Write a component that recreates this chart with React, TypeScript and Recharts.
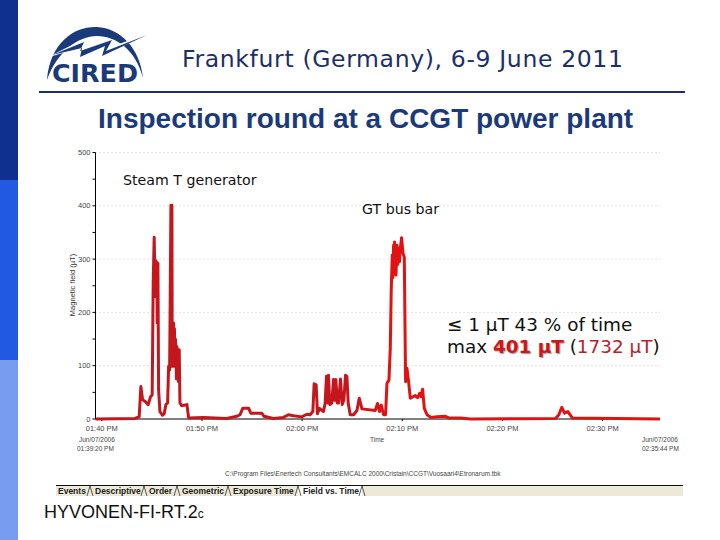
import { LineChart, Line, XAxis, YAxis, CartesianGrid } from "recharts";

// minutes after 13:00
const minutes = [
  39.37, 43.3, 43.73, 43.9, 44.07, 44.33, 44.63, 44.87, 45.03, 45.13, 45.23, 45.33, 45.4, 45.5, 45.53, 45.6,
  45.67, 45.8, 46.07, 46.23, 46.4, 46.57, 46.67, 46.77, 46.83, 46.9, 47.0, 47.03, 47.08, 47.13, 47.17, 47.2, 47.25, 47.3, 47.35, 47.4,
  47.45, 47.5, 47.55, 47.6, 47.66, 47.73, 47.8, 47.97, 48.5, 48.67, 50.13, 52.47, 53.47, 53.8, 54.07, 54.67, 54.87, 55.97, 56.2,
  57.13, 58.13, 58.63, 59.13, 59.97, 60.47, 60.8, 61.07, 61.2, 61.4, 61.53, 61.73, 62.13, 62.3, 62.43, 62.53,
  62.63, 62.77, 62.97, 63.13, 63.25, 63.37, 63.5, 63.63, 63.83, 64.0, 64.17, 64.33, 64.47, 64.6, 64.8, 65.13, 65.47,
  65.7, 65.97, 67.3, 67.53, 67.73, 67.9, 68.13, 68.33, 68.47, 68.67, 68.8, 68.9, 69.0, 69.06, 69.13, 69.18, 69.23, 69.3, 69.37,
  69.47, 69.55, 69.63, 69.72, 69.8, 69.93, 70.07, 70.2, 70.27, 70.33, 70.47, 70.63, 70.8, 71.3, 71.53, 71.73, 71.87, 72.03,
  72.2, 72.47, 72.87, 73.47, 74.3, 74.63, 75.8, 76.8, 85.3, 85.63, 85.93, 86.2, 86.53, 86.97, 95.73,
];
const fieldValues = [
  0, 1, 4, 61, 36, 33, 27, 42, 45, 255, 341, 230, 297, 292, 180, 292,
  55, 14, 7, 10, 27, 30, 99, 92, 227, 401, 401, 99, 178, 110, 180, 99, 170, 120, 150, 130,
  75, 136, 90, 130, 70, 130, 30, 25, 27, 2, 3, 1, 5, 8, 20, 20, 11, 11, 5,
  1, 3, 8, 6, 4, 9, 8, 14, 66, 64, 10, 20, 14, 30, 80, 30,
  82, 27, 30, 74, 35, 74, 30, 30, 75, 27, 36, 82, 80, 30, 8, 8, 16,
  39, 19, 16, 29, 14, 26, 8, 8, 67, 73, 132, 245, 307, 265, 326, 285, 332, 280, 270,
  326, 290, 320, 295, 320, 340, 311, 304, 176, 70, 95, 70, 39, 44, 40, 48, 42, 56,
  20, 8, 3, 4, 5, 2, 2, 0, 1, 8, 22, 11, 14, 2, 0,
];
const xTicks = [40, 50, 60, 70, 80, 90];
const xTickLabels = ["01:40 PM", "01:50 PM", "02:00 PM", "02:10 PM", "02:20 PM", "02:30 PM"];
const yTicks = [0, 50, 100, 150, 200, 250, 300, 350, 400, 450, 500];
const yGridValues = [100, 200, 300, 400, 500];
const tabs = [
  { name: "Events", x: 58 },
  { name: "Descriptive", x: 95 },
  { name: "Order", x: 149 },
  { name: "Geometric", x: 182 },
  { name: "Exposure Time", x: 233 },
  { name: "Field vs. Time", x: 303 },
];
const tabEdges = [90, 144, 177, 228, 298, 362];

const chartData = minutes.map((m, i) => ({ minute: m, field: fieldValues[i] }));

const tinyText = { fill: "#444", fontSize: 7.5, fontFamily: "Liberation Sans" };

function Txt(props: { x: number; y: number; size: number; font?: string; color?: string; bold?: boolean; bg?: string; spacing?: number; children: any }) {
  return (
    <div
      style={{
        position: "absolute",
        left: props.x,
        top: props.y,
        fontSize: props.size,
        lineHeight: 1,
        whiteSpace: "nowrap",
        fontFamily: props.font || "DejaVu Sans",
        color: props.color || "#111",
        fontWeight: props.bold ? "bold" : "normal",
        background: props.bg,
        letterSpacing: props.spacing,
      }}
    >
      {props.children}
    </div>
  );
}

function Logo() {
  return (
    <svg width={120} height={70} viewBox="0 0 120 70" style={{ position: "absolute", left: 40, top: 22 }}>
      <path d="M7 58 C10 20 35 4 57 5 C80 6 100 26 103 56 C96 28 76 14 57 14 C38 14 17 30 7 58 Z" fill="#1b3a7a" />
      <path d="M6 36 L42 18 L38 27 L68 17 L62 28 L107 12 L68 32 L70 22 L44 33 L46 24 Z" fill="#fff" />
      <path d="M12 33 L44 20 L40 29 L72 18 L66 29 L107 13 L62 34 L65 24 L40 35 L42 26 Z" fill="#1b3a7a" />
      <text x={12} y={60} fontFamily="DejaVu Sans" fontWeight="bold" fontSize={24} fill="#1b3a7a" textLength={86} lengthAdjust="spacingAndGlyphs">
        CIRED
      </text>
    </svg>
  );
}

export default function App() {
  return (
    <div style={{ position: "absolute", left: 0, top: 0, width: 720, height: 540, background: "#fff", overflow: "hidden" }}>
      <div style={{ position: "absolute", left: 0, top: 0, width: 18, height: 180, background: "#10308f" }} />
      <div style={{ position: "absolute", left: 0, top: 180, width: 18, height: 180, background: "#2259e3" }} />
      <div style={{ position: "absolute", left: 0, top: 360, width: 18, height: 180, background: "#789cf0" }} />

      <Logo />
      <Txt x={182} y={48} size={23.5} color="#1c2f66" spacing={0.65}>Frankfurt (Germany), 6-9 June 2011</Txt>
      <div style={{ position: "absolute", left: 39, top: 91, width: 646, height: 2, background: "#1b2f6b" }} />
      <Txt x={98} y={105} size={28} font="Liberation Sans" color="#1b3a7a" bold>Inspection round at a CCGT power plant</Txt>

      <div style={{ position: "absolute", left: 0, top: 0 }}>
        <LineChart width={720} height={540} data={chartData} margin={{ top: 152.5, right: 60, bottom: 91, left: 60 }}>
          <defs>
            <linearGradient id="traceColor" x1="0" y1="0" x2="1" y2="0">
              <stop offset="0" stopColor="#c4171d" />
              <stop offset="0.45" stopColor="#c4171d" />
              <stop offset="0.52" stopColor="#e01212" />
              <stop offset="1" stopColor="#e01212" />
            </linearGradient>
          </defs>
          <CartesianGrid horizontal vertical={false} horizontalValues={yGridValues} stroke="#c4c4c4" strokeDasharray="1 3" />
          <XAxis
            dataKey="minute"
            type="number"
            domain={[39.37, 95.73]}
            ticks={xTicks}
            height={30}
            tick={tinyText}
            tickSize={2}
            tickMargin={5}
            stroke="#000"
            tickFormatter={(v: number) => xTickLabels[xTicks.indexOf(v)]}
          />
          <YAxis
            type="number"
            domain={[0, 500]}
            ticks={yTicks}
            interval={0}
            width={35.5}
            tick={tinyText}
            tickSize={3}
            stroke="#000"
            tickFormatter={(v: number) => (v % 100 === 0 ? String(v) : "")}
          />
          <Line
            dataKey="field"
            type="linear"
            dot={false}
            stroke="url(#traceColor)"
            strokeWidth={3}
            strokeLinejoin="round"
            isAnimationActive={false}
            zIndex={600}
          />
        </LineChart>
      </div>

      <div style={{ position: "absolute", left: 72, top: 285, transform: "translate(-50%,-50%) rotate(-90deg)", fontSize: 7.5, whiteSpace: "nowrap", fontFamily: "Liberation Sans", color: "#333" }}>
        Magnetic field (µT)
      </div>

      <Txt x={123} y={173} size={14.2}>Steam T generator</Txt>
      <Txt x={362} y={202} size={14.2} bg="#fff">GT bus bar</Txt>
      <Txt x={447} y={316} size={18.4}>≤ 1 µT 43 % of time</Txt>
      <Txt x={447} y={338} size={18.4}>
        max <span style={{ color: "#d01418", fontWeight: "bold", textShadow: "1px 1px 1px #999" }}>401 µT</span> (<span style={{ color: "#b5222a" }}>1732 µT</span>)
      </Txt>

      <Txt x={79} y={437} size={6.5} font="Liberation Sans" color="#444">Jun/07/2006</Txt>
      <Txt x={77} y={446} size={6.5} font="Liberation Sans" color="#444">01:39:20 PM</Txt>
      <Txt x={370} y={437} size={6.5} font="Liberation Sans" color="#444">Time</Txt>
      <Txt x={642} y={437} size={6.5} font="Liberation Sans" color="#444">Jun/07/2006</Txt>
      <Txt x={642} y={446} size={6.5} font="Liberation Sans" color="#444">02:35:44 PM</Txt>
      <Txt x={225} y={471} size={6.5} font="Liberation Sans" color="#444">C:\Program Files\Enertech Consultants\EMCALC 2000\Cristain\CCGT\Vuosaari4\Etronarum.tbk</Txt>

      <div style={{ position: "absolute", left: 56, top: 485, width: 627, height: 11, background: "#ece9d8", borderTop: "1px solid #111", boxSizing: "border-box" }} />
      <div style={{ position: "absolute", left: 298, top: 485, width: 64, height: 11, background: "#fff", borderTop: "1px solid #111", boxSizing: "border-box" }} />
      <svg width={720} height={540} style={{ position: "absolute", left: 0, top: 0, pointerEvents: "none" }}>
        {tabEdges.map((x) => (
          <path key={x} d={`M${x - 3} 496 L${x} 486 L${x + 3} 496`} fill="none" stroke="#333" strokeWidth={0.8} />
        ))}
      </svg>
      {tabs.map((t) => (
        <Txt key={t.name} x={t.x} y={486.5} size={8.5} font="Liberation Sans" color="#222" bold>{t.name}</Txt>
      ))}

      <Txt x={44} y={503} size={18} font="Liberation Sans" color="#111">
        HYVONEN-FI-RT.2<span style={{ fontSize: 12 }}>c</span>
      </Txt>
    </div>
  );
}
